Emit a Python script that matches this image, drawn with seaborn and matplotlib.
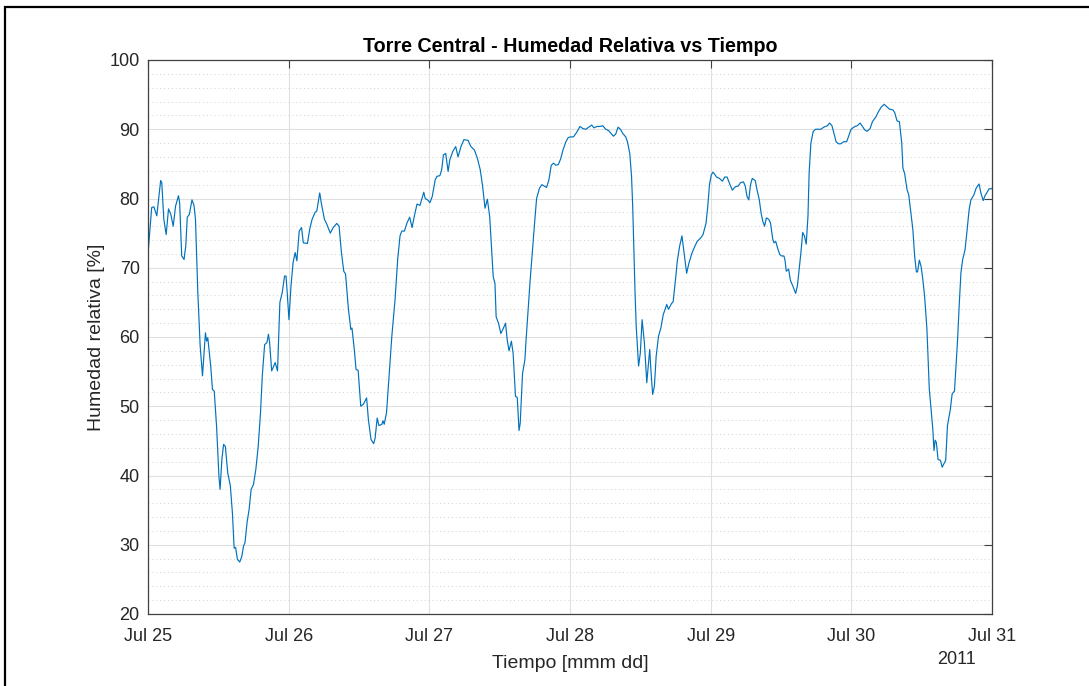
import numpy as np
import pandas as pd
import matplotlib
matplotlib.use("Agg")
import matplotlib.pyplot as plt
import matplotlib.dates as mdates
from matplotlib.ticker import MultipleLocator
from matplotlib.patches import Rectangle
import seaborn as sns

# hours since 2011-07-25 00:00
hours = [
    0, 0.63, 1.0, 1.5, 2.16, 2.35, 2.7, 3.1, 3.5, 3.9, 4.3, 4.7, 5.2, 5.4, 5.75, 6.15, 6.45, 6.7, 7.05, 7.5,
    7.85, 8.1, 8.5, 8.9, 9.3, 9.8, 10.0, 10.2, 10.7, 11.0, 11.3, 11.7, 12.1, 12.3, 12.6, 12.9, 13.2, 13.6,
    14.05, 14.4, 14.7, 14.95, 15.25, 15.65, 16.0, 16.3, 16.55, 16.9, 17.25, 17.6, 18.0, 18.4, 18.8, 19.2,
    19.5, 19.9, 20.3, 20.55, 20.75, 21.1, 21.35, 21.7, 22.1, 22.5, 22.9, 23.3, 23.55, 23.75, 24.05,
    24.4, 24.75, 25.1, 25.4, 25.8, 26.2, 26.5, 27.2, 27.6, 28.0, 28.5, 28.8, 29.3, 29.6, 30.1, 30.5, 31.1,
    31.6, 32.2, 32.6, 33.0, 33.4, 33.7, 34.2, 34.6, 34.8, 35.2, 35.5, 35.85, 36.3, 36.75, 37.3, 37.6, 38.05,
    38.5, 38.75, 39.1, 39.4, 39.9, 40.1, 40.3, 40.7, 41.1, 41.6, 42.15, 42.6, 43.0, 43.3, 43.75, 44.2, 44.65,
    45.05, 45.45, 45.9, 46.4, 46.7, 47.05, 47.3, 47.7,
    48.1, 48.5, 49.0, 49.3, 49.8, 50.1, 50.4, 50.8, 51.2, 51.5, 52.0, 52.5, 52.9, 53.4, 53.9, 54.6, 55.1,
    55.7, 56.2, 56.7, 57.1, 57.5, 57.9, 58.3, 58.6, 58.9, 59.2, 59.4, 59.8, 60.2, 60.6, 61.0, 61.3, 61.6,
    62.0, 62.3, 62.7, 63.0, 63.3, 63.5, 63.9, 64.3, 64.5, 64.9, 65.2, 65.6, 66.0, 66.3, 66.8, 67.2, 67.6,
    68.0, 68.4, 68.8, 69.2, 69.6, 70.0, 70.4, 70.8, 71.3, 71.7,
    72.1, 72.6, 73.1, 73.7, 74.2, 74.7, 75.2, 75.7, 76.1, 76.6, 77.1, 77.6, 78.1, 78.6, 79.0, 79.4, 79.8,
    80.2, 80.6, 81.0, 81.5, 81.8, 82.2, 82.5, 82.7, 82.9, 83.1, 83.3, 83.7, 84.0, 84.3, 84.7, 85.1, 85.6,
    85.8, 86.1, 86.4, 86.7, 87.1, 87.5, 87.9, 88.1, 88.5, 88.8, 89.3, 89.6, 90.0, 90.3, 90.7, 91.1, 91.4,
    91.9, 92.3, 92.8, 93.3, 93.7, 94.3, 94.7, 95.2, 95.5, 95.8, 96.1, 96.4,
    96.6, 97.0, 97.5, 98.0, 98.4, 98.8, 99.3, 99.7, 100.2, 100.7, 101.1, 101.6, 101.9, 102.2, 102.5, 102.8,
    103.1, 103.6, 103.9, 104.3, 104.6, 104.9, 105.2, 105.5, 105.9, 106.2, 106.6, 106.8, 107.1, 107.5, 107.8,
    108.1, 108.5, 108.7, 108.9, 109.3, 109.6, 110.0, 110.5, 110.8, 111.1, 111.4, 111.7, 112.0, 112.3, 112.6,
    112.8, 113.1, 113.5, 113.9, 114.4, 114.8, 115.3, 115.9, 116.3, 116.7, 117.1, 117.4, 117.8, 118.2, 118.7,
    119.2, 119.5, 119.9,
    120.1, 120.6, 121.0, 121.5, 121.9, 122.3, 122.7, 123.2, 123.6, 124.2, 124.6, 125.1, 125.6, 126.0, 126.5,
    127.1, 127.4, 127.8, 128.2, 128.6, 128.8, 129.1, 129.5, 129.8, 130.1, 130.5, 130.8, 131.1, 131.3, 131.6,
    131.9, 132.2, 132.5, 132.9, 133.3, 133.6, 133.9, 134.1, 134.3, 134.5, 134.8, 135.2, 135.5, 135.8, 136.1,
    136.4, 136.9, 137.2, 137.6, 137.8, 138.1, 138.4, 138.7, 139.0, 139.4, 139.7, 140.1, 140.4, 140.9, 141.3,
    141.8, 142.1, 142.5, 142.8, 143.1, 143.5, 143.9, 144.0,
]

humedad = [
    72, 78.7, 78.8, 77.5, 82.6, 82.3, 77, 74.8, 78.5, 77.7, 76, 78.9, 80.4, 79.4, 71.7, 71.2, 73.2, 77.3, 77.7, 79.8,
    79, 77, 66.4, 58.7, 54.4, 60.6, 59.4, 59.9, 55.8, 52.4, 52.2, 47.1, 39.9, 38, 42.3, 44.5, 44.2, 40.4,
    38.5, 34.6, 29.5, 29.6, 27.9, 27.5, 28.3, 29.8, 30.3, 33.2, 35.1, 38, 38.7, 40.9, 44.2, 49.1,
    54.4, 58.9, 59.2, 60.4, 59.2, 55.1, 55.6, 56.3, 55.1, 65, 66.4, 68.8, 68.8, 66.4, 62.5,
    67.4, 70.7, 72.2, 71, 75.3, 75.8, 73.6, 73.5, 75.6, 77, 78, 78.2, 80.8, 79.2, 77, 76.3, 75,
    75.8, 76.4, 76, 72.2, 69.5, 69.1, 64, 61.1, 61.3, 58.2, 55.3, 55.2, 50, 50.3, 51.2, 48.1, 45.2,
    44.6, 45.4, 48.3, 47.2, 47.4, 47.9, 47.4, 49.1, 53.9, 60.1, 65.4, 71.2, 74.6, 75.3, 75.3, 76.5, 77.3,
    75.8, 77.5, 79.2, 79, 79.9, 80.9, 80, 79.8,
    79.4, 80.3, 82.7, 83.2, 83.3, 84.1, 86.3, 86.5, 83.9, 85.6, 86.8, 87.5, 86, 87.5, 88.5, 88.4, 87.5,
    87, 85.8, 84.1, 81.7, 78.6, 79.9, 77.4, 73, 68.7, 67.7, 62.9, 62, 60.5, 61.2, 62, 59.5, 58,
    59.4, 57.6, 51.4, 51.3, 46.5, 47.5, 54.7, 56.7, 59.5, 64.4, 68.2, 72.6, 76.9, 80, 81.5, 82, 81.8,
    81.6, 82.7, 84.8, 85.1, 84.8, 84.9, 85.7, 87, 88.2, 88.8,
    88.9, 88.9, 89.5, 90.4, 90.1, 90, 90.3, 90.6, 90.2, 90.4, 90.4, 90.5, 90, 89.8, 89.4, 89, 89.3,
    90.3, 90, 89.4, 88.9, 88.2, 86.5, 83.2, 78.8, 72.6, 66.3, 61.5, 55.8, 57.7, 62.5, 59.1, 53.4, 58.2,
    55.3, 51.7, 52.9, 57.2, 60.1, 61.3, 63.2, 63.7, 64.7, 64, 64.8, 65.1, 68.3, 70.9, 73.1, 74.6, 72.6,
    69.2, 70.7, 72.1, 73.1, 73.8, 74.3, 74.8, 76.4, 78.8, 82, 83.4, 83.8,
    83.6, 83.1, 82.9, 82.5, 83.1, 83.1, 82, 81.2, 81.7, 81.8, 82.3, 82.4, 81.8, 80.3, 79.8, 82,
    82.9, 82.6, 81.3, 79.8, 77.9, 76.7, 76, 77.2, 77, 76.5, 74.1, 73.6, 73.8, 72.6, 71.9,
    71.7, 71.7, 71, 69.5, 69.8, 68.2, 67.4, 66.3, 67.4, 69.8, 72.2, 75.1, 74.6, 73.4, 77.4,
    83.7, 88, 89.7, 90, 90, 90, 90.3, 90.5, 90.9, 90.5, 89.2, 88.2, 87.9, 87.9, 88.2,
    88.2, 88.9, 89.9,
    90.1, 90.4, 90.5, 90.9, 90.4, 89.9, 89.7, 90.1, 91.1, 91.8, 92.5, 93.2, 93.6, 93.3, 92.9,
    92.8, 92.4, 91.2, 91.1, 88, 84.4, 83.6, 81.3, 80.5, 78.4, 75.5, 71.7, 69.4, 69.4, 71.1,
    70.2, 68.3, 65.9, 61.1, 52.5, 49.6, 46.7, 43.6, 45.1, 44.8, 42.3, 42.2, 41.2, 41.7, 42.2,
    47.2, 49.6, 51.8, 52.2, 54.9, 59.2, 64.5, 69.3, 71.2, 72.6, 75, 78.4, 79.8, 80.5, 81.5,
    82.1, 80.8, 79.7, 80.4, 80.8, 81.4, 81.4, 81.5,
]

start = pd.Timestamp("2011-07-25")
df = pd.DataFrame({
    "Tiempo": start + pd.to_timedelta(hours, unit="h"),
    "Humedad": humedad,
})

title_txt = "Torre Central - Humedad Relativa vs Tiempo"
xlabel_txt = "Tiempo [mmm dd]"
ylabel_txt = "Humedad relativa [%]"
year_txt = "2011"

sns.set_style("white")
plt.rcParams["font.family"] = ["Liberation Sans", "DejaVu Sans"]

W, H = 1089, 686
fig = plt.figure(figsize=(W / 100, H / 100), dpi=100)
fig.patch.set_facecolor("white")
ax = fig.add_axes([148 / W, 1 - 614 / H, (992 - 148) / W, (614 - 60) / H])

sns.lineplot(data=df, x="Tiempo", y="Humedad", ax=ax, color="#0072BD", linewidth=0.85, estimator=None)

ax.set_xlim(start, start + pd.Timedelta(days=6))
ax.set_ylim(20, 100)
ax.xaxis.set_major_locator(mdates.DayLocator())
ax.xaxis.set_major_formatter(mdates.DateFormatter("%b %d"))
ax.yaxis.set_major_locator(MultipleLocator(10))
ax.yaxis.set_minor_locator(MultipleLocator(2))

dark = "#262626"
ax.grid(True, which="major", color="#e0e0e0", linewidth=0.8, linestyle="-")
ax.grid(True, which="minor", axis="y", color="#d0d0d0", linewidth=0.7, linestyle=(0, (1, 3)))
ax.set_axisbelow(True)

for s in ax.spines.values():
    s.set_visible(True)
    s.set_color("#404040")
    s.set_linewidth(0.9)

ax.tick_params(axis="both", which="major", direction="in", length=6, width=0.8, color="#404040",
               labelcolor=dark, labelsize=13, top=True, right=True)
ax.tick_params(axis="x", which="major", pad=10)
ax.tick_params(axis="y", which="major", pad=6)
ax.tick_params(axis="both", which="minor", length=0, top=False, right=False)

ax.set_xlabel(xlabel_txt, fontsize=14, color=dark, labelpad=7)
ax.set_ylabel(ylabel_txt, fontsize=14, color=dark, labelpad=3)
ax.set_title(title_txt, fontsize=14.2, fontweight="bold", color="black", pad=6)

fig.text(957 / W, 1 - 659 / H, year_txt, ha="center", va="center", fontsize=13, color=dark)

# figure frame (only top and left edges visible in the reference)
fig.add_artist(Rectangle((5 / W, -0.1), 1.2, 1 - 7 / H + 0.1, transform=fig.transFigure,
                         fill=False, edgecolor="black", linewidth=1.6))

fig.savefig("out.png", dpi=100, facecolor="white")
